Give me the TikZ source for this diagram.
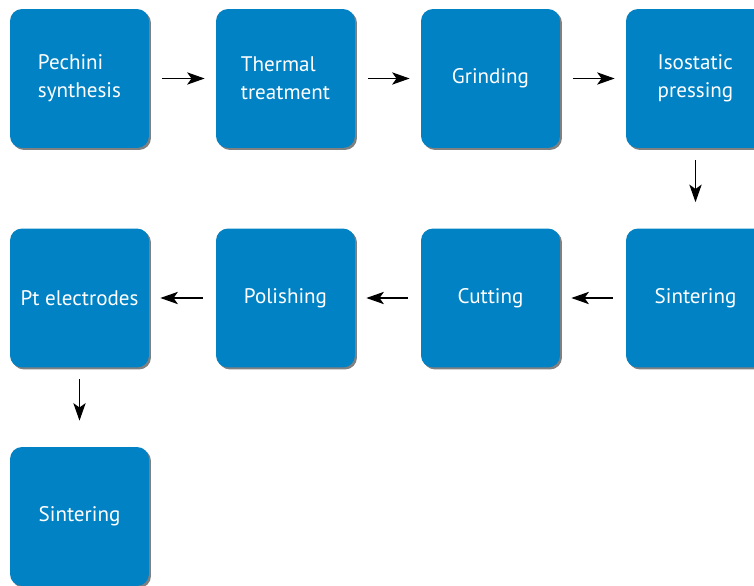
\documentclass[tikz,border=0pt]{standalone}
\usepackage{fontspec}
\setmainfont{PT Sans}
\usepackage{tikz}
\usetikzlibrary{arrows.meta, shadows}

\definecolor{stepblue}{RGB}{0,130,196}

\begin{document}
\begin{tikzpicture}[x=0.02cm, y=-0.02cm,
    stepbox/.style={rectangle, rounded corners=0.24cm, fill=stepblue,
        minimum width=2.78cm, minimum height=2.78cm, align=left,
        text=white, font=\fontsize{12}{16}\selectfont,
        drop shadow={shadow xshift=0.04cm, shadow yshift=-0.04cm,
            fill=black!50, opacity=1}},
    flow/.style={-{Stealth[length=10pt, width=7pt, inset=2.5pt]}, line width=0.8pt}]
            \useasboundingbox (0,0) rectangle (754,585);
            % first row
            \node [stepbox] (pechini) at (79.5,78.5) {Pechini\\synthesis};
            \node [stepbox] (thermal) at (285.5,78.5) {Thermal\\treatment};
            \node [stepbox] (grinding) at (490.5,78.5) {Grinding};
            \node [stepbox] (pressing) at (695.5,78.5) {Isostatic\\pressing};
            % second row
            \node [stepbox] (sinter) at (695.5,298) {Sintering};
            \node [stepbox] (cutting) at (490.5,298) {Cutting};
            \node [stepbox] (polishing) at (285.5,298) {Polishing};
            \node [stepbox] (electrodes) at (79.5,298) {Pt electrodes};
            % third row
            \node [stepbox] (final) at (79.5,516.5) {Sintering};
            \foreach \From/\To in {pechini/thermal, thermal/grinding, grinding/pressing,
                sinter/cutting, cutting/polishing, polishing/electrodes}{
                \draw [flow, shorten <=0.25cm, shorten >=0.22cm] (\From) -- (\To);
            }
            \foreach \From/\To in {pressing/sinter, electrodes/final}{
                \draw [flow, shorten <=0.23cm, shorten >=0.52cm] (\From) -- (\To);
            }
        \end{tikzpicture}
\end{document}
